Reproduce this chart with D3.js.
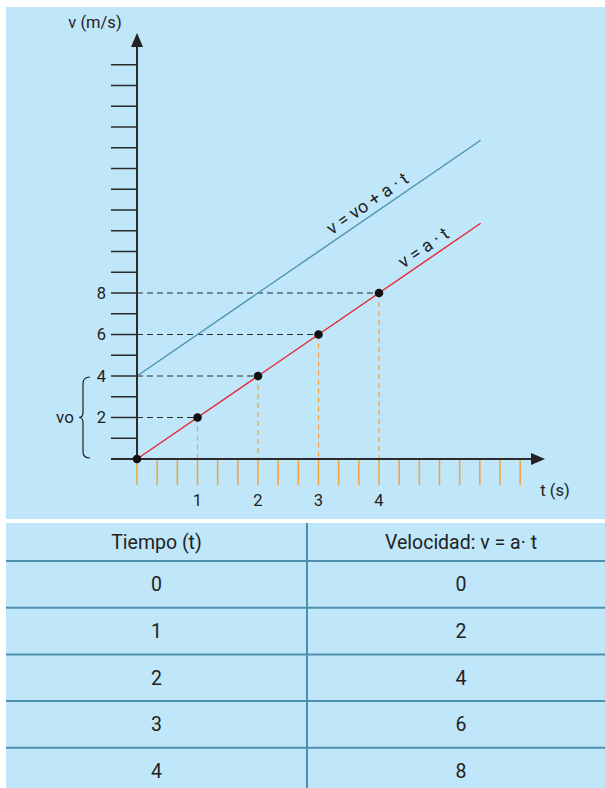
<!DOCTYPE html>
<html><head><meta charset="utf-8">
<script src="https://cdn.jsdelivr.net/npm/d3@7"></script>
<style>html,body{margin:0;padding:0;background:#fff;}svg{display:block;}</style>
</head><body>
<script>
// ---- data ----
const times = [0, 1, 2, 3, 4];
const velocities = [0, 2, 4, 6, 8];
const v0 = 4;
const accel = 2;
const yTickLabels = [2, 4, 6, 8];
const xTickLabels = [1, 2, 3, 4];
const tMax = 5.68;          // extent of the drawn lines (s)
const yMinorMax = 19;       // minor ticks on v axis
const xMinorCount = 19;     // minor ticks on t axis (every 1/3 s)
const tableHeaders = ["Tiempo (t)", "Velocidad: v = a· t"];

const W = 605, H = 788;
const bg = "#bfe6f9", axisCol = "#2b2b2b", red = "#e8262d", blue = "#4c93b3",
      orange = "#f0a33c", gridCol = "#4f8fae";
const font = "Roboto, 'Liberation Sans', sans-serif";

const svg = d3.select("body").append("svg").attr("width", W).attr("height", H);

// panels
svg.append("rect").attr("x", 6).attr("y", 7).attr("width", W - 6).attr("height", 512).attr("fill", bg);
svg.append("rect").attr("x", 6).attr("y", 523).attr("width", W - 6).attr("height", H - 523).attr("fill", bg);

const x = d3.scaleLinear().domain([0, 4]).range([137, 379]);
const y = d3.scaleLinear().domain([0, 8]).range([459, 293]);

// orange minor ticks on t axis
const xt = d3.range(0, xMinorCount + 1).map(i => i / 3);
svg.append("g").selectAll("line").data(xt).join("line")
  .attr("x1", d => x(d)).attr("x2", d => x(d)).attr("y1", y(0)).attr("y2", y(0) + 26)
  .attr("stroke", orange).attr("stroke-width", 1.5);

// y ticks
const yt = d3.range(0, yMinorMax + 1);
svg.append("g").selectAll("line").data(yt).join("line")
  .attr("x1", x(0) - 26).attr("x2", x(0)).attr("y1", d => y(d)).attr("y2", d => y(d))
  .attr("stroke", axisCol).attr("stroke-width", 1.5);

// dashed guides
const pts = times.map((t, i) => ({t, v: velocities[i]}));
svg.append("g").selectAll("line").data(pts.filter(d => d.t > 0)).join("line")
  .attr("x1", x(0)).attr("x2", d => x(d.t)).attr("y1", d => y(d.v)).attr("y2", d => y(d.v))
  .attr("stroke", axisCol).attr("stroke-width", 1.2).attr("stroke-dasharray", "6,4");
svg.append("g").selectAll("line").data(pts.filter(d => d.t > 0)).join("line")
  .attr("x1", d => x(d.t)).attr("x2", d => x(d.t)).attr("y1", d => y(d.v)).attr("y2", y(0))
  .attr("stroke", orange).attr("stroke-width", 1.2).attr("stroke-dasharray", "5,4");

// lines
const line = d3.line().x(d => x(d[0])).y(d => y(d[1]));
svg.append("path").attr("d", line([[0, v0], [tMax, v0 + accel * tMax]]))
  .attr("stroke", blue).attr("stroke-width", 1.4).attr("fill", "none");
svg.append("path").attr("d", line([[0, 0], [tMax, accel * tMax]]))
  .attr("stroke", red).attr("stroke-width", 1.4).attr("fill", "none");

// axes
svg.append("line").attr("x1", x(0)).attr("x2", x(0)).attr("y1", y(0)).attr("y2", 44)
  .attr("stroke", axisCol).attr("stroke-width", 2);
svg.append("path").attr("d", `M${x(0)},33 L${x(0) - 6},47 L${x(0) + 6},47 Z`).attr("fill", "#222");
svg.append("line").attr("x1", x(0) - 26).attr("x2", 535).attr("y1", y(0)).attr("y2", y(0))
  .attr("stroke", axisCol).attr("stroke-width", 2);
svg.append("path").attr("d", `M545,${y(0)} L531,${y(0) - 6} L531,${y(0) + 6} Z`).attr("fill", "#222");

// points
svg.append("g").selectAll("circle").data(pts).join("circle")
  .attr("cx", d => x(d.t)).attr("cy", d => y(d.v)).attr("r", 4.3).attr("fill", "#111");

// tick labels
svg.append("g").selectAll("text").data(yTickLabels).join("text")
  .attr("x", 106).attr("y", d => y(d)).attr("dy", "0.36em").attr("text-anchor", "end")
  .attr("font-family", font).attr("font-size", 16.5).attr("fill", "#222").text(d => d);
svg.append("g").selectAll("text").data(xTickLabels).join("text")
  .attr("x", d => x(d)).attr("y", 506).attr("text-anchor", "middle")
  .attr("font-family", font).attr("font-size", 16.5).attr("fill", "#222").text(d => d);

// axis titles
svg.append("text").attr("x", 95).attr("y", 28).attr("text-anchor", "middle")
  .attr("font-family", font).attr("font-size", 16.5).attr("fill", "#222").text("v (m/s)");
svg.append("text").attr("x", 555).attr("y", 496).attr("text-anchor", "middle")
  .attr("font-family", font).attr("font-size", 16.5).attr("fill", "#222").text("t (s)");

// brace for vo
const bx = 90, yt4 = y(v0), yb = y(0), ym = (yt4 + yb) / 2;
svg.append("path")
  .attr("d", `M${bx},${yt4 + 1} Q${bx - 7},${yt4 + 1} ${bx - 7},${yt4 + 8} L${bx - 7},${ym - 5} Q${bx - 7},${ym} ${bx - 11},${ym} Q${bx - 7},${ym} ${bx - 7},${ym + 5} L${bx - 7},${yb - 7} Q${bx - 7},${yb - 1} ${bx},${yb - 1}`)
  .attr("fill", "none").attr("stroke", "#222").attr("stroke-width", 1.2);
svg.append("text").attr("x", 65).attr("y", ym).attr("dy", "0.35em").attr("text-anchor", "middle")
  .attr("font-family", font).attr("font-size", 17).attr("fill", "#222").text("vo");

// line labels
const ang = -Math.atan((y(0) - y(accel)) / (x(1) - x(0))) * 180 / Math.PI;
function lineLabel(t, v, txt) {
  const px = x(t), py = y(v);
  svg.append("text").attr("transform", `translate(${px},${py}) rotate(${ang})`)
    .attr("x", 0).attr("y", -6).attr("text-anchor", "middle")
    .attr("font-family", font).attr("font-size", 18).attr("fill", "#222").text(txt);
}
lineLabel(3.92, v0 + accel * 3.92, "v = vo + a · t");
lineLabel(4.85, accel * 4.85, "v = a · t");

// table
const colX = [6, 307, 615];
const headerTop = 523, headerBottom = 561, rowH = 46.7;
const rowLines = d3.range(0, times.length).map(i => headerBottom + i * rowH);
svg.append("g").selectAll("line").data(rowLines).join("line")
  .attr("x1", 6).attr("x2", W).attr("y1", d => d).attr("y2", d => d)
  .attr("stroke", gridCol).attr("stroke-width", 2);
svg.append("line").attr("x1", colX[1]).attr("x2", colX[1]).attr("y1", headerTop).attr("y2", H)
  .attr("stroke", gridCol).attr("stroke-width", 2);
const cx = [(colX[0] + colX[1]) / 2, (colX[1] + colX[2]) / 2];
svg.append("g").selectAll("text").data(tableHeaders).join("text")
  .attr("x", (d, i) => cx[i]).attr("y", (headerTop + headerBottom) / 2).attr("dy", "0.36em")
  .attr("text-anchor", "middle").attr("font-family", font).attr("font-size", 19.5).attr("fill", "#222").text(d => d);
const rows = times.map((t, i) => [t, velocities[i]]);
rows.forEach((r, i) => {
  const cy = headerBottom + i * rowH + rowH / 2;
  r.forEach((val, j) => {
    svg.append("text").attr("x", cx[j]).attr("y", cy).attr("dy", "0.36em").attr("text-anchor", "middle")
      .attr("font-family", font).attr("font-size", 19.5).attr("fill", "#222").text(val);
  });
});
</script>
</body></html>
